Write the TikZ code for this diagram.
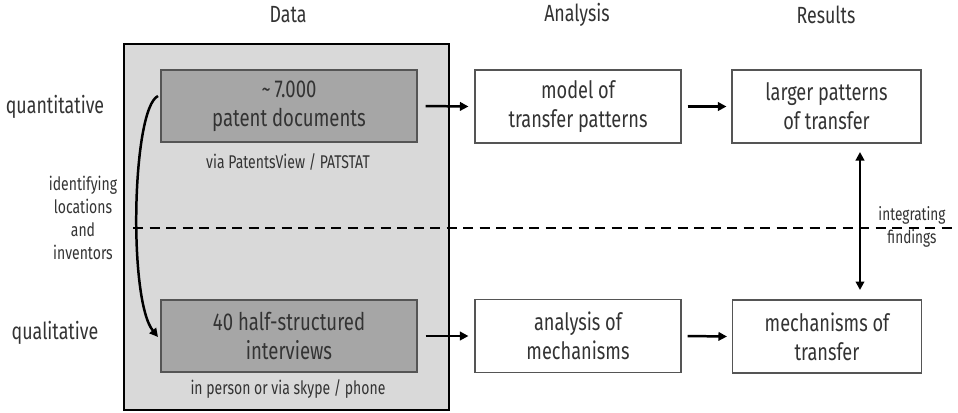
\documentclass[tikz,border=0pt]{standalone}
\usepackage{fontspec}
\setmainfont{Fira Sans}[FakeStretch=0.76]
\usetikzlibrary{arrows.meta}
\definecolor{txt}{HTML}{333333}
\definecolor{bigfill}{HTML}{D9D9D9}
\definecolor{darkfill}{HTML}{A6A6A6}
\definecolor{edge}{HTML}{555555}
\tikzset{
  lbl/.style={text=txt, font=\fontsize{23.5}{28}\selectfont, inner sep=0pt},
  head/.style={text=txt, font=\fontsize{23.5}{28}\selectfont, inner sep=0pt},
  small/.style={text=txt, font=\fontsize{18.5}{23}\selectfont, inner sep=0pt, align=center},
  darkbox/.style={draw=edge, fill=darkfill, line width=1.1pt, minimum width=256bp, minimum height=72bp, align=center, text=txt, font=\fontsize{24.5}{29}\selectfont, inner sep=0pt},
  whitebox/.style={draw=edge, fill=white, line width=1.1pt, minimum height=73bp, align=center, text=txt, font=\fontsize{24}{29}\selectfont, inner sep=0pt},
  arr/.style={line width=2.5pt, -{Triangle[length=8.5bp,width=8.5bp]}},
  darr/.style={line width=2.5pt, {Triangle[length=8.5bp,width=8.5bp]}-{Triangle[length=8.5bp,width=8.5bp]}}
}
\begin{document}
\begin{tikzpicture}[x=1bp,y=-1bp]
\useasboundingbox (0,0) rectangle (958,412);
% big data box
\node[draw=black, fill=bigfill, line width=1.6pt, minimum width=325bp, minimum height=366bp, inner sep=0pt] (big) at (286.5,227) {};
% headers
\node[head] (hdata) at (288,15) {Data};
\node[head] (hana) at (577,15) {Analysis};
\node[head] (hres) at (826,15) {Results};
% dashed separator
\coordinate (dl) at (133,228);
\coordinate (dr) at (958,228);
\draw[line width=1.5pt, dash pattern=on 10bp off 6.5bp] (dl) -- (dr);
% boxes
\node[darkbox] (dtop) at (289,106) {\textasciitilde\,7.000\\patent documents};
\node[darkbox] (dbot) at (289,336) {40 half-structured\\interviews};
\node[small] (via1) at (288,162) {via PatentsView / PATSTAT};
\node[small] (via2) at (288,389) {in person or via skype / phone};
\node[whitebox, minimum width=206bp] (atop) at (578,106.5) {model of\\transfer patterns};
\node[whitebox, minimum width=206bp] (abot) at (578,336) {analysis of\\mechanisms};
\node[whitebox, minimum width=189bp] (rtop) at (826.5,106.5) {larger patterns\\of transfer};
\node[whitebox, minimum width=189bp] (rbot) at (827,336.5) {mechanisms of\\transfer};
% side labels
\node[lbl] (quant) at (55,107) {quantitative};
\node[lbl] (qual) at (55,333) {qualitative};
\node[small] (ident) at (83,218) {identifying\\locations\\and\\inventors};
\node[small, font=\fontsize{18}{23.5}\selectfont] (integ) at (912,227) {integrating\\findings};
% arrows
\draw[arr] ([xshift=8bp]dtop.east) -- ([xshift=-6bp]atop.west);
\draw[arr] ([xshift=6bp]atop.east) -- ([xshift=-5bp]rtop.west);
\draw[arr] ([xshift=8bp]dbot.east) -- ([xshift=-6bp]abot.west);
\draw[arr] ([xshift=6bp]abot.east) -- ([xshift=-5bp]rbot.west);
\coordinate (vt) at (860,152);
\coordinate (vb) at (860,290);
\draw[darr] (vt) -- (vb);
% curved arrow
\coordinate (cs) at (158,96);
\coordinate (ce) at (158,337);
\draw[arr] (cs) .. controls (132,108) and (128,300) .. (ce);
\end{tikzpicture}
\end{document}
